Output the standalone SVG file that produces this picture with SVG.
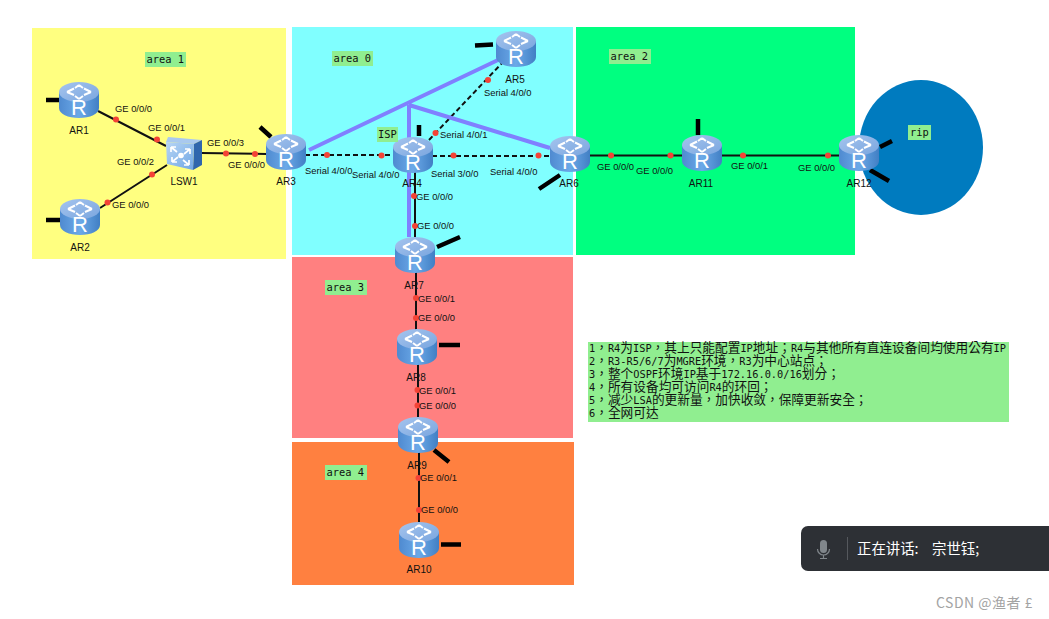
<svg xmlns="http://www.w3.org/2000/svg" xmlns:xlink="http://www.w3.org/1999/xlink" width="1049" height="619" viewBox="0 0 1049 619">
<style>
.lk{stroke:#111;stroke-width:2;fill:none}
.ser{stroke:#111;stroke-width:2;stroke-dasharray:5 3;fill:none}
.pu{stroke:#8080ff;stroke-width:4;fill:none}
.st{stroke:#000;stroke-width:4.5;fill:none}
.lb{font:9.4px "Liberation Sans",Arial,sans-serif;fill:#111}
.nm{font:10px "Liberation Sans",Arial,sans-serif;fill:#111;text-anchor:middle}
.tag{font:10.4px "DejaVu Sans Mono",monospace;fill:#111}
.bx{fill:#90ee90}
.note{font:12.7px/13px "Noto Sans CJK TC",sans-serif;fill:#111}
.m{font:10.3px "DejaVu Sans Mono",monospace}
.dot{fill:#f44336}
</style>
<defs>
<linearGradient id="bd" x1="0" x2="1" y1="0" y2="0"><stop offset="0" stop-color="#4f8ad0"/><stop offset=".5" stop-color="#6ba9e8"/><stop offset="1" stop-color="#417fc4"/></linearGradient>
<linearGradient id="tp" x1="0" x2="1" y1="0" y2="1"><stop offset="0" stop-color="#a5c4ee"/><stop offset="1" stop-color="#7aa6df"/></linearGradient>
<linearGradient id="sw" x1="0" x2="1" y1="0" y2="1"><stop offset="0" stop-color="#b8d6f5"/><stop offset="1" stop-color="#6fa6e4"/></linearGradient>
<g id="router">
<path d="M0 10V26C0 32 9 36 20 36S40 32 40 26V10Z" fill="url(#bd)"/>
<ellipse cx="20" cy="10" rx="20" ry="10" fill="url(#tp)"/>
<path d="M8 10l7-3.500M8 10l7 3M32 10l-7-3.500M32 10l-7 3M20 3l-4 3M20 3l4 3M20 17l-4-3M20 17l4-3" stroke="#fff" stroke-width="2" fill="none"/>
<text x="20" y="33" font-family="Liberation Sans,Arial,sans-serif" font-size="22" fill="#fff" text-anchor="middle">R</text>
</g>
</defs>
<g id="areas">
<rect x="32" y="28" width="254" height="231" fill="#ffff80"/>
<rect x="292" y="27" width="281" height="228" fill="#80ffff"/>
<rect x="576" y="27" width="279" height="228" fill="#00ff80"/>
<rect x="292" y="257" width="281" height="181" fill="#ff8080"/>
<rect x="292" y="442" width="282" height="143" fill="#ff8040"/>
<ellipse cx="921" cy="147.500" rx="62" ry="67.500" fill="#007bbf"/>
</g>
<g id="connectors">
<path class="lk" d="M98 111L166 146M100 208L167 165M201 153L267 154M851 155.500H588M415 155V237M416 270V331M418 362V419M419 450V523"/>
<path class="ser" d="M305 155H395M432 156H552M429 140L503 62"/>
<path class="pu" d="M309 150L498 60M409 105V237M409 105L550 148"/>
<path class="st" d="M46 100H59M46 220H60M260 127L271 137M419 125V136M475 45.500L493 44.500M539 189L560 175M437 247L460 237M439 345H460M434 450L449 462M441 544.500H461M698 119V135M880 147L892 141M870 170L889 181"/>
</g>
<g id="dots" class="dot">
<circle cx="116" cy="119.500" r="3"/><circle cx="157" cy="139.500" r="3"/><circle cx="152" cy="174.500" r="3"/><circle cx="107.500" cy="202.500" r="3"/><circle cx="226" cy="153.500" r="3"/><circle cx="255" cy="154" r="3"/>
<circle cx="327" cy="155" r="3"/><circle cx="381.500" cy="155.500" r="3"/><circle cx="453.500" cy="155.500" r="3"/><circle cx="538.500" cy="155.500" r="3"/><circle cx="488" cy="80" r="3"/><circle cx="435.500" cy="133" r="3"/>
<circle cx="414" cy="196" r="3"/><circle cx="415" cy="226" r="3"/><circle cx="416" cy="298" r="3"/><circle cx="416" cy="318" r="3"/><circle cx="417.500" cy="390" r="3"/><circle cx="417.500" cy="405.500" r="3"/><circle cx="418.500" cy="478" r="3"/><circle cx="419" cy="510" r="3"/>
<circle cx="611" cy="155.500" r="3"/><circle cx="670.500" cy="155.500" r="3"/><circle cx="743" cy="155.500" r="3"/><circle cx="828" cy="155.500" r="3"/>
</g>
<g id="AR1"><use xlink:href="#router" x="59" y="82"/><text class="nm" x="79" y="134">AR1</text></g>
<g id="AR2"><use xlink:href="#router" x="60" y="199"/><text class="nm" x="80" y="251">AR2</text></g>
<g id="AR3"><use xlink:href="#router" x="266" y="134"/><text class="nm" x="286" y="185">AR3</text></g>
<g id="AR4"><use xlink:href="#router" x="393" y="137"/><text class="nm" x="412" y="187">AR4</text></g>
<g id="AR5"><use xlink:href="#router" x="496" y="31"/><text class="nm" x="515" y="83">AR5</text></g>
<g id="AR6"><use xlink:href="#router" x="550" y="136"/><text class="nm" x="569" y="187">AR6</text></g>
<g id="AR7"><use xlink:href="#router" x="395" y="237"/><text class="nm" x="414" y="289">AR7</text></g>
<g id="AR8"><use xlink:href="#router" x="397" y="329"/><text class="nm" x="416" y="381">AR8</text></g>
<g id="AR9"><use xlink:href="#router" x="398" y="417"/><text class="nm" x="417" y="469">AR9</text></g>
<g id="AR10"><use xlink:href="#router" x="399" y="522"/><text class="nm" x="419" y="573">AR10</text></g>
<g id="AR11"><use xlink:href="#router" x="682" y="135"/><text class="nm" x="701" y="187">AR11</text></g>
<g id="AR12"><use xlink:href="#router" x="839" y="135"/><text class="nm" x="859" y="187">AR12</text></g>
<g id="LSW1">
<path d="M166 142L168 137L202 140L194 144Z" fill="#a9c9ef"/>
<path d="M194 144L202 140L202 165L193 170Z" fill="#2f66ad"/>
<path d="M166 142L194 144L193 170L167 164Z" fill="url(#sw)"/>
<path d="M171 147l6 5M171 147h5M171 147v5M190 149l-6 5M190 149h-5M190 149v5M172 162l6-5M172 162h5M172 162v-5M189 165l-6-5M189 165h-5M189 165v-5" stroke="#fff" stroke-width="1.700" fill="none"/>
<circle cx="181" cy="155.500" r="2.800" fill="#fff"/>
<text class="nm" x="184" y="185">LSW1</text>
</g>
<g id="labels" class="lb">
<text x="115" y="112">GE 0/0/0</text><text x="148" y="131">GE 0/0/1</text><text x="117" y="165">GE 0/0/2</text><text x="112" y="208">GE 0/0/0</text><text x="207" y="146">GE 0/0/3</text><text x="228" y="168">GE 0/0/0</text>
<text x="305" y="174">Serial 4/0/0</text><text x="352" y="178">Serial 4/0/0</text><text x="431" y="177">Serial 3/0/0</text><text x="490" y="175">Serial 4/0/0</text><text x="484" y="96">Serial 4/0/0</text><text x="440" y="138">Serial 4/0/1</text>
<text x="416" y="200">GE 0/0/0</text><text x="417" y="229">GE 0/0/0</text><text x="418" y="302">GE 0/0/1</text><text x="418" y="321">GE 0/0/0</text><text x="419" y="394">GE 0/0/1</text><text x="419" y="409">GE 0/0/0</text><text x="420" y="481">GE 0/0/1</text><text x="421" y="513">GE 0/0/0</text>
<text x="597" y="170">GE 0/0/0</text><text x="636" y="174">GE 0/0/0</text><text x="731" y="169">GE 0/0/1</text><text x="798" y="171">GE 0/0/0</text>
</g>
<g id="tags">
<rect class="bx" x="145" y="52" width="41" height="15"/><text class="tag" x="146.500" y="62.500">area 1</text>
<rect class="bx" x="332" y="51" width="41" height="15"/><text class="tag" x="333.500" y="61.500">area 0</text>
<rect class="bx" x="609" y="49" width="42" height="15"/><text class="tag" x="610.500" y="59.500">area 2</text>
<rect class="bx" x="325" y="280" width="42" height="15"/><text class="tag" x="326.500" y="290.500">area 3</text>
<rect class="bx" x="325" y="465" width="42" height="15"/><text class="tag" x="326.500" y="475.500">area 4</text>
<rect class="bx" x="377" y="127" width="21" height="15"/><text class="tag" x="378" y="137.500">ISP</text>
<rect class="bx" x="908" y="125" width="23" height="15"/><text class="tag" x="910" y="136">rip</text>
</g>
<g id="notes">
<rect class="bx" x="588" y="342" width="421" height="80"/>
<text class="note" x="589" y="352"><tspan class="m">1</tspan>，<tspan class="m">R4</tspan>为<tspan class="m">ISP</tspan>，其上只能配置<tspan class="m">IP</tspan>地址；<tspan class="m">R4</tspan>与其他所有直连设备间均使用公有<tspan class="m">IP</tspan></text>
<text class="note" x="589" y="365"><tspan class="m">2</tspan>，<tspan class="m">R3-R5/6/7</tspan>为<tspan class="m">MGRE</tspan>环境，<tspan class="m">R3</tspan>为中心站点；</text>
<text class="note" x="589" y="378"><tspan class="m">3</tspan>，整个<tspan class="m">OSPF</tspan>环境<tspan class="m">IP</tspan>基于<tspan class="m">172.16.0.0/16</tspan>划分；</text>
<text class="note" x="589" y="391"><tspan class="m">4</tspan>，所有设备均可访问<tspan class="m">R4</tspan>的环回；</text>
<text class="note" x="589" y="404"><tspan class="m">5</tspan>，减少<tspan class="m">LSA</tspan>的更新量，加快收敛，保障更新安全；</text>
<text class="note" x="589" y="417"><tspan class="m">6</tspan>，全网可达</text>
</g>
<g id="speaking">
<path d="M1049 526H808a7 7 0 0 0-7 7V564a7 7 0 0 0 7 7H1049Z" fill="#2d3035"/>
<rect x="820" y="540" width="7" height="13" rx="3.500" fill="#80868b"/>
<path d="M817.500 549a6 6 0 0 0 12 0M823.500 555v3M820 558.500h7" stroke="#80868b" stroke-width="1.200" fill="none"/>
<path d="M847.500 537V560" stroke="#55585d" stroke-width="1"/>
<text y="553.500" font-family="Noto Sans CJK SC,sans-serif" font-size="14.400" fill="#fff"><tspan x="857">正在讲话:</tspan><tspan x="932">宗世钰;</tspan></text>
</g>
<text id="wm" x="936" y="608" font-family="Noto Sans CJK SC,sans-serif" font-size="14" fill="#a3a3a3" letter-spacing=".5">CSDN @渔者 £</text>
</svg>
